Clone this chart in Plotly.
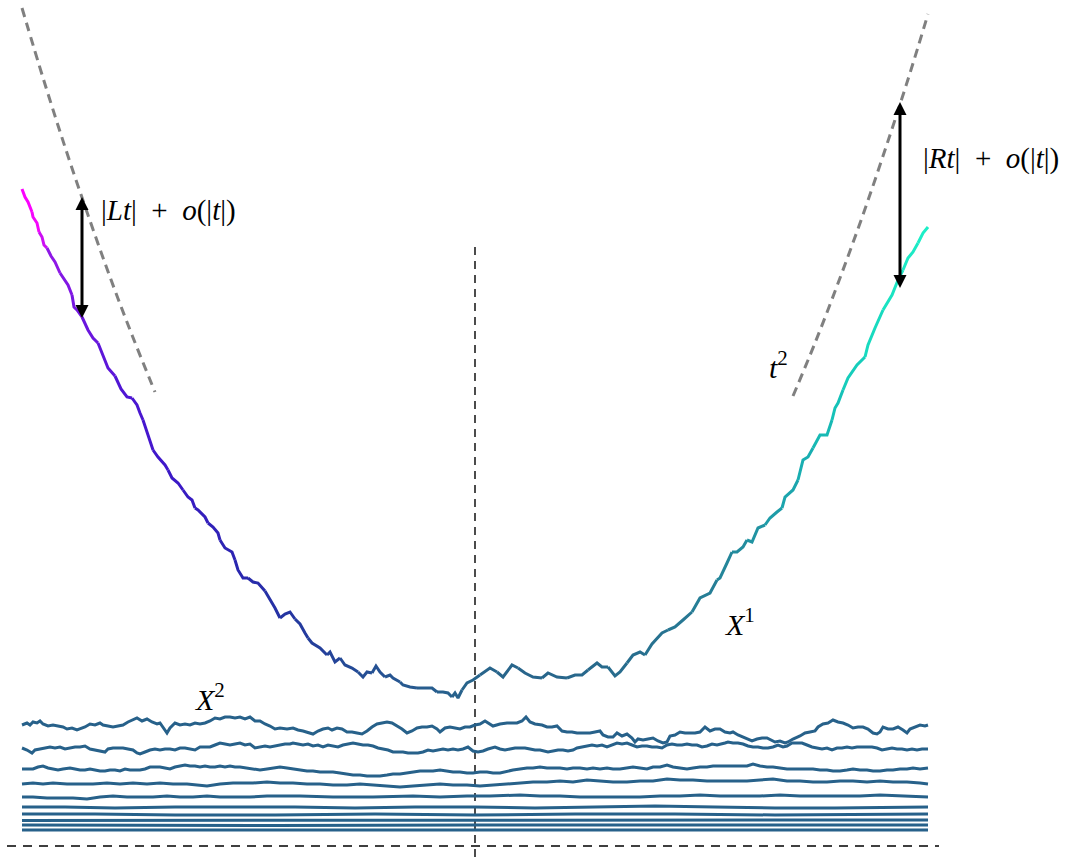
import plotly.graph_objects as go

# ---------------- data (time t centred at the dashed vertical line, height h above the dashed baseline) ----
x1_t = [-453,-450,-447,-443,-442,-438,-436,-433,-431,-428,-424,-420,-415,-412,-407,-403,-401,-398,-393,-387,
        -382,-377,-373,-367,-360,-354,-348,-343,-338,-335,-332,-328,-325,-322,-317,-310,-307,-303,-297,-292,
        -287,-283,-280,-277,-270,-267,-262,-257,-255,-250,-243,-240,-237,-232,-227,-222,-217,-210,-205,-200,
        -195,-190,-185,-180,-175,-170,-167,-163,-155,-148,-145,-140,-135,-130,-123,-117,-112,-108,-103,-99,
        -95,-90,-85,-82,-75,-72,-65,-58,-52,-43,-38,-32,-27,-23,-20,-17,-13,-8,-2,5,
        8,15,22,28,37,43,50,58,67,73,82,92,100,107,113,122,127,133,140,145,
        152,158,165,170,177,187,193,200,208,217,225,235,242,245,252,257,262,268,272,277,
        283,290,295,302,307,310,318,323,328,333,338,345,352,357,360,363,368,373,382,390,
        393,400,408,417,423,428,433,438,443,448,453]
x1_h = [657,649,644,634,629,623,614,609,601,598,590,584,573,568,561,551,539,536,529,516,
        508,503,493,478,470,457,449,448,441,433,426,413,404,396,389,381,376,368,363,356,
        349,346,338,336,329,323,319,313,306,298,294,286,276,268,268,264,263,255,247,238,
        228,232,234,227,222,213,208,203,198,191,194,184,188,181,178,174,169,174,173,180,
        174,169,171,168,164,161,159,158,158,158,154,154,153,149,153,148,156,163,166,171,
        173,178,174,169,181,178,173,169,168,173,169,168,171,171,176,183,179,179,170,174,
        183,191,194,191,202,213,216,219,226,234,248,253,266,268,283,294,294,299,306,304,
        318,321,328,334,338,349,356,366,386,389,398,411,411,426,438,443,456,468,481,489,
        501,518,536,551,566,576,588,594,603,613,619]

x2_t = [-453,-448,-445,-442,-438,-435,-432,-427,-422,-417,-412,-408,-403,-398,-395,-390,-385,-380,-375,-372,
        -367,-362,-357,-352,-347,-342,-338,-333,-328,-323,-318,-315,-312,-308,-305,-300,-295,-290,-285,-280,
        -275,-270,-265,-260,-255,-250,-245,-240,-235,-230,-225,-220,-215,-210,-205,-200,-195,-188,-182,-177,
        -172,-165,-162,-157,-152,-147,-143,-138,-133,-128,-123,-118,-113,-108,-103,-98,-93,-88,-83,-78,
        -73,-68,-63,-58,-53,-48,-43,-38,-35,-30,-25,-20,-15,-10,-5,0,5,10,13,18,
        25,32,38,42,47,51,55,60,67,72,77,82,87,92,97,102,108,115,120,125,
        128,133,138,142,147,152,157,160,163,168,173,178,183,188,192,195,200,205,210,215,
        220,225,230,235,240,245,250,255,258,263,268,273,277,282,287,292,297,300,305,310,
        313,318,325,330,335,340,343,348,353,358,363,368,373,378,383,388,393,398,402,405,
        408,413,418,423,428,432,435,440,445,450,453]
x2_h = [121,123,121,124,123,125,122,120,121,120,119,117,118,116,117,119,122,121,123,121,
        120,119,120,121,124,126,128,125,127,124,122,123,119,113,118,123,121,122,121,123,
        122,123,125,128,127,129,129,128,129,127,129,125,125,122,120,117,118,117,118,116,
        115,113,112,115,117,118,116,118,117,114,114,113,112,115,119,122,123,124,123,120,
        117,113,115,118,119,119,120,117,114,118,119,118,117,119,119,121,122,125,123,120,
        122,123,123,123,125,129,124,122,121,119,119,120,115,114,114,113,113,113,114,115,
        111,109,109,113,110,112,108,104,107,106,107,108,105,103,104,110,111,114,113,113,
        113,114,119,115,117,117,114,113,114,111,109,107,105,107,108,108,106,104,105,103,
        104,107,110,113,114,115,119,122,123,126,124,123,121,118,119,119,117,113,112,114,
        119,117,117,119,116,113,117,119,121,120,121]

x3_t = [-453,-448,-443,-440,-435,-430,-425,-420,-415,-410,-405,-400,-395,-390,-385,-380,-375,-370,-367,-362,
        -357,-352,-347,-342,-338,-335,-330,-325,-320,-315,-310,-305,-300,-295,-290,-285,-280,-275,-270,-265,
        -260,-255,-250,-245,-240,-235,-230,-225,-220,-215,-210,-205,-200,-195,-190,-185,-182,-177,-172,-167,
        -162,-157,-152,-147,-142,-137,-132,-127,-122,-117,-112,-107,-102,-97,-92,-87,-82,-77,-72,-67,
        -62,-57,-52,-47,-42,-37,-32,-27,-22,-17,-12,-7,-2,3,8,13,20,25,30,35,
        40,45,50,55,60,65,70,73,78,83,88,93,98,102,107,112,117,122,127,132,
        137,142,147,152,157,162,167,172,177,182,187,192,197,202,207,212,217,222,227,232,
        237,242,250,253,258,263,268,273,278,283,288,293,298,303,308,312,317,322,327,332,
        337,342,347,352,357,362,367,372,377,382,387,392,397,402,407,412,417,422,427,432,
        437,442,447,453]
x3_h = [98,96,93,96,97,98,99,98,99,97,98,99,99,100,97,96,95,94,97,98,
        98,98,97,96,93,92,94,96,97,96,97,97,96,98,98,97,96,99,99,99,
        101,103,102,101,102,103,101,102,98,99,100,99,100,101,102,102,103,102,101,102,
        100,101,99,101,100,99,101,102,103,102,101,101,100,98,97,96,94,94,94,93,
        93,93,94,96,95,96,97,96,97,96,97,99,95,94,95,97,99,97,96,97,
        98,98,98,97,96,96,95,94,95,96,96,95,96,98,99,100,101,100,101,99,
        101,103,102,103,101,99,100,100,99,99,98,101,102,101,101,102,101,101,99,100,
        102,101,103,104,103,103,102,100,99,99,98,98,99,101,99,100,103,103,103,101,
        99,98,97,98,96,98,98,99,98,99,99,99,99,98,96,97,98,97,97,96,
        97,96,97,97]

x4_t = [-453,-447,-442,-437,-432,-427,-422,-417,-412,-405,-400,-395,-390,-385,-380,-375,-370,-365,-360,-355,
        -350,-345,-340,-335,-330,-325,-320,-315,-310,-305,-300,-295,-290,-285,-280,-275,-270,-265,-260,-255,
        -250,-245,-240,-235,-228,-222,-215,-208,-202,-195,-188,-182,-175,-168,-162,-155,-148,-142,-135,-128,
        -122,-115,-108,-102,-95,-88,-82,-75,-68,-62,-55,-48,-42,-35,-28,-22,-15,-8,-2,5,
        12,18,25,32,38,45,52,58,65,72,78,85,92,98,105,112,118,125,132,138,
        145,152,158,165,172,178,185,192,198,205,212,218,225,232,238,245,252,258,265,272,
        278,285,292,298,305,312,318,325,332,338,345,352,358,365,372,378,385,392,398,405,
        412,418,425,432,438,445,453]
x4_h = [77,77,77,79,80,78,77,76,77,78,77,76,76,77,76,75,75,76,76,75,
        77,76,76,76,77,79,79,79,78,77,79,80,81,80,80,79,80,79,79,80,
        79,80,79,79,78,77,76,77,78,79,78,77,76,75,75,74,74,74,73,72,
        71,71,70,70,70,71,72,72,73,74,75,75,75,76,75,74,74,73,73,74,
        74,73,73,75,76,77,78,78,79,78,78,78,77,78,78,77,78,77,78,77,
        77,78,79,78,77,79,79,81,79,78,77,78,79,79,80,80,80,80,80,80,
        82,80,79,79,78,77,77,77,77,77,76,76,75,75,76,77,76,76,75,75,
        76,76,77,77,78,77,78]

x5_t = [-453,-442,-432,-422,-408,-395,-382,-368,-355,-342,-328,-315,-302,-288,-275,-268,-255,-242,-222,-208,
        -195,-182,-168,-155,-142,-128,-115,-102,-88,-75,-62,-48,-35,-22,-8,5,18,32,45,58,
        72,85,98,112,125,138,152,165,178,192,205,218,232,245,258,272,285,298,312,325,
        338,352,365,378,392,405,418,432,445,453]
x5_h = [62,63,62,63,62,62,62,63,62,63,62,63,62,62,61,60,62,63,63,64,
        63,63,62,62,61,61,62,61,60,59,60,61,62,61,61,60,61,62,63,64,
        64,65,64,66,65,64,64,65,65,67,66,66,65,65,65,65,66,67,65,65,
        64,64,65,65,64,65,64,64,63,62]

x6_t = [-453,-442,-428,-415,-402,-388,-375,-362,-348,-335,-322,-308,-295,-282,-268,-255,-242,-225,-208,-175,
        -142,-102,-62,-35,-8,15,45,65,85,105,125,145,165,185,205,225,245,265,285,305,
        325,345,365,385,405,425,445,453]
x6_h = [49,49,48,48,48,47,49,50,49,49,49,50,49,49,50,49,49,49,50,50,
        49,49,50,49,50,50,51,50,50,49,49,49,49,50,50,51,50,50,50,51,
        50,50,50,50,51,50,49,49]

x7_t = [-453,-410,-360,-300,-240,-180,-120,-60,0,60,120,180,240,300,360,420,453]
x7_h = [39,39,38,39,39,39,38,39,39,38,39,40,39,38,38,39,39]

x8_t = [-453,-380,-300,-200,-100,0,100,200,300,400,453]
x8_h = [32,32,31,31,32,31,32,32,31,32,32]

x9_t = [-453,-300,-150,0,150,300,453]
x9_h = [25.5,25.5,26,25.5,25.5,26,26]

x10_t = [-453,-200,0,200,453]
x10_h = [21,20.5,21,21,21]

x11_t = [-453,0,453]
x11_h = [16,16,16]

guide_left_t = [-453,-431,-409,-387,-365,-343,-320]
guide_left_h = [838,765,696,631,569,511,454]
guide_right_t = [318,340,365,390,415,435,453]
guide_right_h = [450,503,568,637,711,773,832]

# gap arrows: (time, lower end, upper end)
arrow_left = (-393, 528, 649)
arrow_right = (425, 558, 744)

# colour stops for X^1 along time
stop_t = [-453,-434,-429,-393,-355,-305,-245,-185,-125,-55,-5,85,165,225,275,325,365,405,453]
stop_rgb = [(255,0,255),(240,8,250),(150,25,232),(112,22,224),(82,22,213),(60,24,200),(44,36,178),(36,54,160),
            (36,74,150),(39,92,142),(40,100,139),(40,102,139),(40,110,142),(38,124,149),(34,144,160),
            (26,170,176),(21,196,184),(24,222,192),(30,240,200)]

LINE_COLOR = "#27618a"


def color_at(t):
    for i in range(len(stop_t) - 1):
        if stop_t[i] <= t <= stop_t[i + 1]:
            f = (t - stop_t[i]) / (stop_t[i + 1] - stop_t[i])
            c = [round(a + (b - a) * f) for a, b in zip(stop_rgb[i], stop_rgb[i + 1])]
            return "rgb(%d,%d,%d)" % tuple(c)
    return "rgb(%d,%d,%d)" % (stop_rgb[-1] if t > 0 else stop_rgb[0])


fig = go.Figure()

# reference dashed axes
fig.add_trace(go.Scatter(x=[-468, 464], y=[0, 0], mode="lines",
                         line=dict(color="black", width=1.4, dash="9px,7px"), hoverinfo="skip"))
fig.add_trace(go.Scatter(x=[0, 0], y=[599, -13], mode="lines",
                         line=dict(color="black", width=1.4, dash="8px,6px"), hoverinfo="skip"))

# lower paths X^2 ... X^11
lower = [(x11_t, x11_h), (x10_t, x10_h), (x9_t, x9_h), (x8_t, x8_h), (x7_t, x7_h),
         (x6_t, x6_h), (x5_t, x5_h), (x4_t, x4_h), (x3_t, x3_h), (x2_t, x2_h)]
for tt, hh in lower:
    fig.add_trace(go.Scatter(x=tt, y=hh, mode="lines",
                             line=dict(color=LINE_COLOR, width=3), hoverinfo="skip"))

# X^1 with colour gradient (short overlapping chunks)
n = len(x1_t)
i = 0
while i < n - 1:
    j = min(i + 3, n - 1)
    mid = (x1_t[i] + x1_t[j]) / 2
    fig.add_trace(go.Scatter(x=x1_t[i:j + 1], y=x1_h[i:j + 1], mode="lines",
                             line=dict(color=color_at(mid), width=3), hoverinfo="skip"))
    i = j

# t^2 guides
for gt, gh in [(guide_left_t, guide_left_h), (guide_right_t, guide_right_h)]:
    fig.add_trace(go.Scatter(x=gt, y=gh, mode="lines", line_shape="spline",
                             line=dict(color="#808080", width=3, dash="9px,6px"), hoverinfo="skip"))

# double-headed arrows
for at, lo, hi in [arrow_left, arrow_right]:
    fig.add_trace(go.Scatter(x=[at, at], y=[lo + 6, hi - 6], mode="lines",
                             line=dict(color="black", width=3), hoverinfo="skip"))
    fig.add_trace(go.Scatter(x=[at, at], y=[lo, hi], mode="markers",
                             marker=dict(symbol=["arrow-down", "arrow-up"], size=13, color="black",
                                         line=dict(width=0)),
                             hoverinfo="skip"))

FONT = "Liberation Serif"
annotations = [
    dict(x=-376, y=636, xref="x", yref="y", xanchor="left", yanchor="middle", showarrow=False,
         text="|<i>Lt</i>|&nbsp;&nbsp;+&nbsp;&nbsp;<i>o</i>(|<i>t</i>|)",
         font=dict(family=FONT, size=29, color="black")),
    dict(x=446, y=688, xref="x", yref="y", xanchor="left", yanchor="middle", showarrow=False,
         text="|<i>Rt</i>|&nbsp;&nbsp;+&nbsp;&nbsp;<i>o</i>(|<i>t</i>|)",
         font=dict(family=FONT, size=29, color="black")),
    dict(x=303, y=481, xref="x", yref="y", showarrow=False,
         text="<i>t</i><sup>2</sup>", font=dict(family=FONT, size=30, color="black")),
    dict(x=265, y=224, xref="x", yref="y", showarrow=False,
         text="<i>X</i><sup>1</sup>", font=dict(family=FONT, size=30, color="black")),
    dict(x=-265, y=149, xref="x", yref="y", showarrow=False,
         text="<i>X</i><sup>2</sup>", font=dict(family=FONT, size=30, color="black")),
]

fig.update_layout(
    width=1073, height=859,
    margin=dict(l=0, r=0, t=0, b=0, pad=0),
    paper_bgcolor="white", plot_bgcolor="white",
    showlegend=False,
    xaxis=dict(range=[-475, 598], visible=False, fixedrange=True),
    yaxis=dict(range=[-13, 846], visible=False, fixedrange=True),
    annotations=annotations,
)

fig.write_html("out.html", config={"displayModeBar": False, "staticPlot": True},
               post_script="document.body.style.margin='0';document.body.style.overflow='hidden';")
